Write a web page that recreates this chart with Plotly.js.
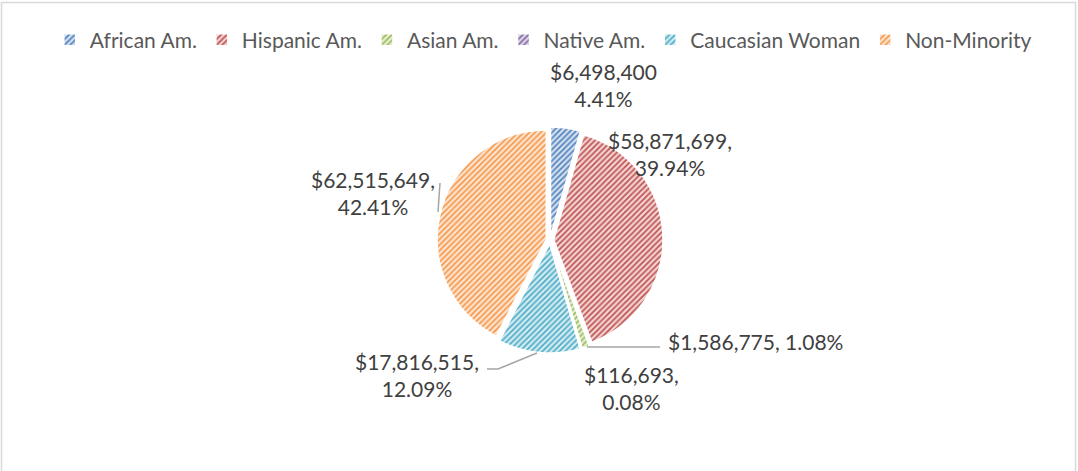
<!DOCTYPE html>
<html>
<head>
<meta charset="utf-8">
<script src="https://cdn.plot.ly/plotly-3.0.1.min.js"></script>
<style>
  html, body { margin: 0; padding: 0; background: #ffffff; }
  #chart { width: 1078px; height: 471px; }
</style>
</head>
<body>
<div id="chart"></div>
<script>
// ---- data ----
const categories = ['African Am.', 'Hispanic Am.', 'Asian Am.', 'Native Am.', 'Caucasian Woman', 'Non-Minority'];
const amounts = [6498400, 58871699, 1586775, 116693, 17816515, 62515649];
const baseColors = ['#4F81BD', '#C0504D', '#9BBB59', '#8064A2', '#4BACC6', '#F79646'];
const tintColors = ['#D3DFEE', '#F0D3D2', '#E6EED5', '#DFD8E8', '#D2EAF1', '#FDE4D0'];

// ---- helpers ----
const W = 1078, H = 471;
const px = x => x / W;
const py = y => 1 - y / H;
const total = amounts.reduce((a, b) => a + b, 0);
const money = v => '$' + v.toLocaleString('en-US');
const pct = v => (v / total * 100).toFixed(2) + '%';

// label layout (pixel centres of each label block; separator style)
const labelLayout = [
  { x: 603, y: 85,  sep: '<br>' },
  { x: 670, y: 154, sep: ',<br>' },
  { x: 755, y: 341, sep: ', ' },
  { x: 631, y: 388, sep: ',<br>' },
  { x: 417, y: 375, sep: ',<br>' },
  { x: 373, y: 193, sep: ',<br>' }
];

const annotations = categories.map((c, i) => ({
  xref: 'paper', yref: 'paper',
  x: px(labelLayout[i].x), y: py(labelLayout[i].y),
  xanchor: 'center', yanchor: 'middle',
  text: money(amounts[i]) + labelLayout[i].sep + pct(amounts[i]),
  showarrow: false, align: 'center',
  font: { family: 'Lato, "Open Sans", sans-serif', size: 21, color: '#404040' }
}));

const leader = (pts) => ({
  type: 'path', xref: 'paper', yref: 'paper',
  path: pts.map((p, k) => (k ? 'L' : 'M') + px(p[0]) + ',' + py(p[1])).join(' '),
  line: { color: '#A6A6A6', width: 1.5 }
});

const shapes = [
  { type: 'rect', xref: 'paper', yref: 'paper', x0: px(1.5), x1: px(1075.5), y0: py(480), y1: py(2.5),
    line: { color: '#D9D9D9', width: 1.5 }, fillcolor: 'rgba(0,0,0,0)', layer: 'below' },
  leader([[440, 183], [438, 212]]),
  leader([[587, 347], [660, 347]]),
  leader([[487, 369], [498, 369], [537, 353]])
];

const trace = {
  type: 'pie',
  labels: categories,
  values: amounts,
  sort: false,
  direction: 'clockwise',
  rotation: 0,
  pull: 0.035,
  textinfo: 'none',
  hoverinfo: 'label+value+percent',
  domain: { x: [px(437), px(663)], y: [py(354), py(126)] },
  marker: {
    colors: tintColors,
    line: { color: '#FFFFFF', width: 1.5 },
    pattern: {
      shape: '/',
      fgcolor: baseColors,
      bgcolor: tintColors,
      size: 4,
      solidity: 0.4,
      fillmode: 'replace'
    }
  }
};

const layout = {
  width: W, height: H,
  margin: { l: 0, r: 0, t: 0, b: 0 },
  paper_bgcolor: '#FFFFFF',
  showlegend: true,
  legend: {
    orientation: 'h',
    x: 0.504, xanchor: 'center',
    y: py(40), yanchor: 'middle',
    font: { family: 'Lato, "Open Sans", sans-serif', size: 21, color: '#595959' },
    itemwidth: 30,
    traceorder: 'normal'
  },
  annotations: annotations,
  shapes: shapes
};

Plotly.newPlot('chart', [trace], layout, { displayModeBar: false, staticPlot: true });
</script>
</body>
</html>
